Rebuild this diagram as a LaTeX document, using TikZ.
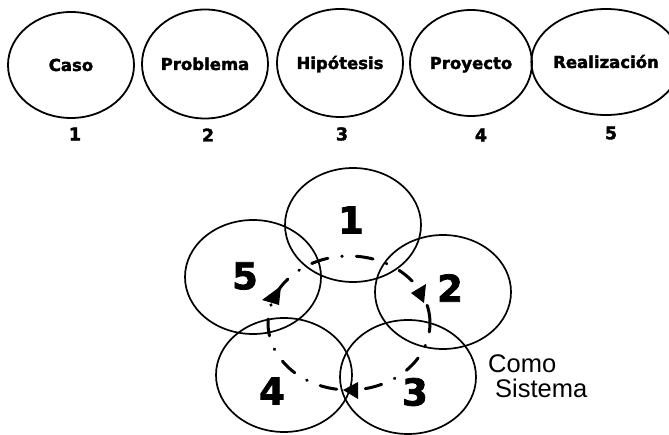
\documentclass[tikz,border=0pt]{standalone}
\usepackage{fontspec}
\usetikzlibrary{shapes.geometric}
\newfontfamily\heavyfont{DejaVu Sans Bold}[FakeBold=2]
\newfontfamily\plainfont{Liberation Sans}

\tikzset{
  stage/.style={ellipse, draw, line width=1.8pt, inner sep=0pt,
    font=\heavyfont\fontsize{16.5}{16.5}\selectfont,
    text height=12pt, text depth=0pt},
  stagenum/.style={inner sep=0pt, font=\heavyfont\fontsize{17.5}{17.5}\selectfont},
  ring/.style={ellipse, draw, line width=1.7pt, minimum width=136pt, minimum height=114pt, inner sep=0pt},
  bignum/.style={inner sep=0pt, font=\heavyfont\fontsize{37}{37}\selectfont},
  cycleline/.style={line width=3pt, line cap=round,
    dash pattern=on 17pt off 14pt on 0.6pt off 14pt, dash phase=8pt},
  tip/.style={fill=black},
  note/.style={inner sep=0pt, anchor=base west, font=\plainfont\fontsize{25.5}{25.5}\selectfont}
}

\begin{document}
\begin{tikzpicture}[x=1pt,y=-1pt]
\useasboundingbox (0,0) rectangle (669,435);

% stages in a row
\node[stage, minimum width=126pt, minimum height=106pt] (caso) at (71,65) {Caso};
\node[stage, minimum width=126pt, minimum height=109pt] (problema) at (205,64) {Problema};
\node[stage, minimum width=126pt, minimum height=108pt] (hipotesis) at (340,63) {Hipótesis};
\node[stage, minimum width=122pt, minimum height=106pt] (proyecto) at (471,63) {Proyecto};
\node[stage, minimum width=122pt, minimum height=106pt] (realizacion) at (606,62) {Realización};

\node[stagenum] (s1) at (75,134) {1};
\node[stagenum] (s2) at (208,135) {2};
\node[stagenum] (s3) at (342,134) {3};
\node[stagenum] (s4) at (481,135) {4};
\node[stagenum] (s5) at (611,133) {5};

% the same stages as a system
\node[ring] (r1) at (353,225) {};
\node[ring] (r2) at (443,292) {};
\node[ring] (r3) at (408,377) {};
\node[ring] (r4) at (284,375) {};
\node[ring] (r5) at (253,277) {};

\node[bignum] (b1) at (351,220) {1};
\node[bignum] (b2) at (450,288) {2};
\node[bignum] (b3) at (415,392) {3};
\node[bignum] (b4) at (272,391) {4};
\node[bignum] (b5) at (245,276) {5};

% cycle through the stages
\coordinate (cyc) at (349,323);
\draw[cycleline] (cyc) ellipse [x radius=81, y radius=67];

% arrow heads on the cycle
\fill[tip] (411,293) -- (426,284) -- (424,303) -- cycle;
\fill[tip] (343,390) -- (358,382) -- (358,399) -- cycle;
\fill[tip] (262,300) -- (281,286) -- (279,305) -- cycle;

% caption
\node[note] (como) at (488,373) {Como};
\node[note] (sistema) at (495,397) {Sistema};
\end{tikzpicture}
\end{document}
